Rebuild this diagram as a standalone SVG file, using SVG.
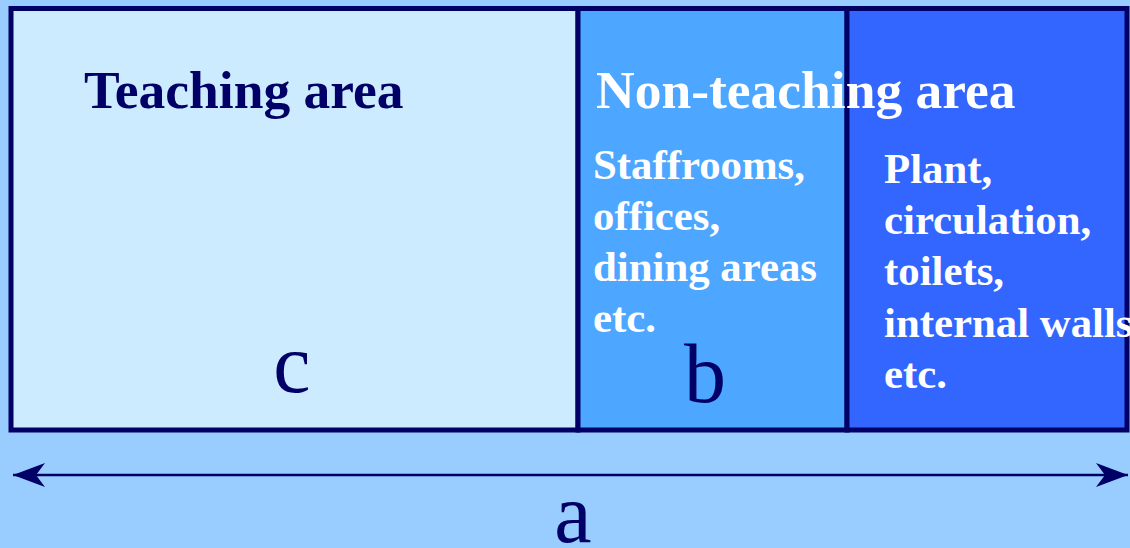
<svg xmlns="http://www.w3.org/2000/svg" width="1130" height="548" viewBox="0 0 1130 548">
<style>
.box{stroke:#000066;stroke-width:5}
.hd{font-family:"Liberation Serif","Times New Roman",serif;font-weight:bold;font-size:53.5px}
.sub{font-family:"Liberation Serif","Times New Roman",serif;font-weight:bold;font-size:42.8px;fill:#ffffff}
.big{font-family:"Liberation Serif","Times New Roman",serif;font-size:84px;fill:#000066;text-anchor:middle}
</style>
<defs>
<marker id="ah" viewBox="0 0 32 24" refX="32" refY="12" markerWidth="32" markerHeight="24" markerUnits="userSpaceOnUse" orient="auto-start-reverse">
<path d="M32,12 L0,0 L9,12 L0,24 Z" fill="#000066"/>
</marker>
</defs>
<rect width="1130" height="548" fill="#99CCFF"/>
<g id="teaching">
<rect class="box" x="11" y="8.5" width="567" height="421.5" fill="#CCEBFF"/>
<text class="hd" x="84" y="108" fill="#000066">Teaching area</text>
<text class="big" x="292" y="392">c</text>
</g>
<g id="nonteaching-b">
<rect class="box" x="578" y="8.5" width="269" height="421.5" fill="#4DA6FF"/>
<text class="sub" x="593"><tspan x="593" y="179">Staffrooms,</tspan><tspan x="593" y="230">offices,</tspan><tspan x="593" y="281">dining areas</tspan><tspan x="593" y="332">etc.</tspan></text>
<text class="big" x="705" y="402">b</text>
</g>
<g id="nonteaching-c">
<rect class="box" x="847" y="8.5" width="280" height="421.5" fill="#3366FF"/>
<text class="sub" x="884"><tspan x="884" y="183">Plant,</tspan><tspan x="884" y="234">circulation,</tspan><tspan x="884" y="285">toilets,</tspan><tspan x="884" y="337">internal walls</tspan><tspan x="884" y="388">etc.</tspan></text>
</g>
<text class="hd" x="596" y="108" fill="#ffffff">Non-teaching area</text>
<g id="connectors">
<line x1="13" y1="475" x2="1128" y2="475" stroke="#000066" stroke-width="2.5" marker-start="url(#ah)" marker-end="url(#ah)"/>
</g>
<text class="big" x="573" y="542">a</text>
</svg>
